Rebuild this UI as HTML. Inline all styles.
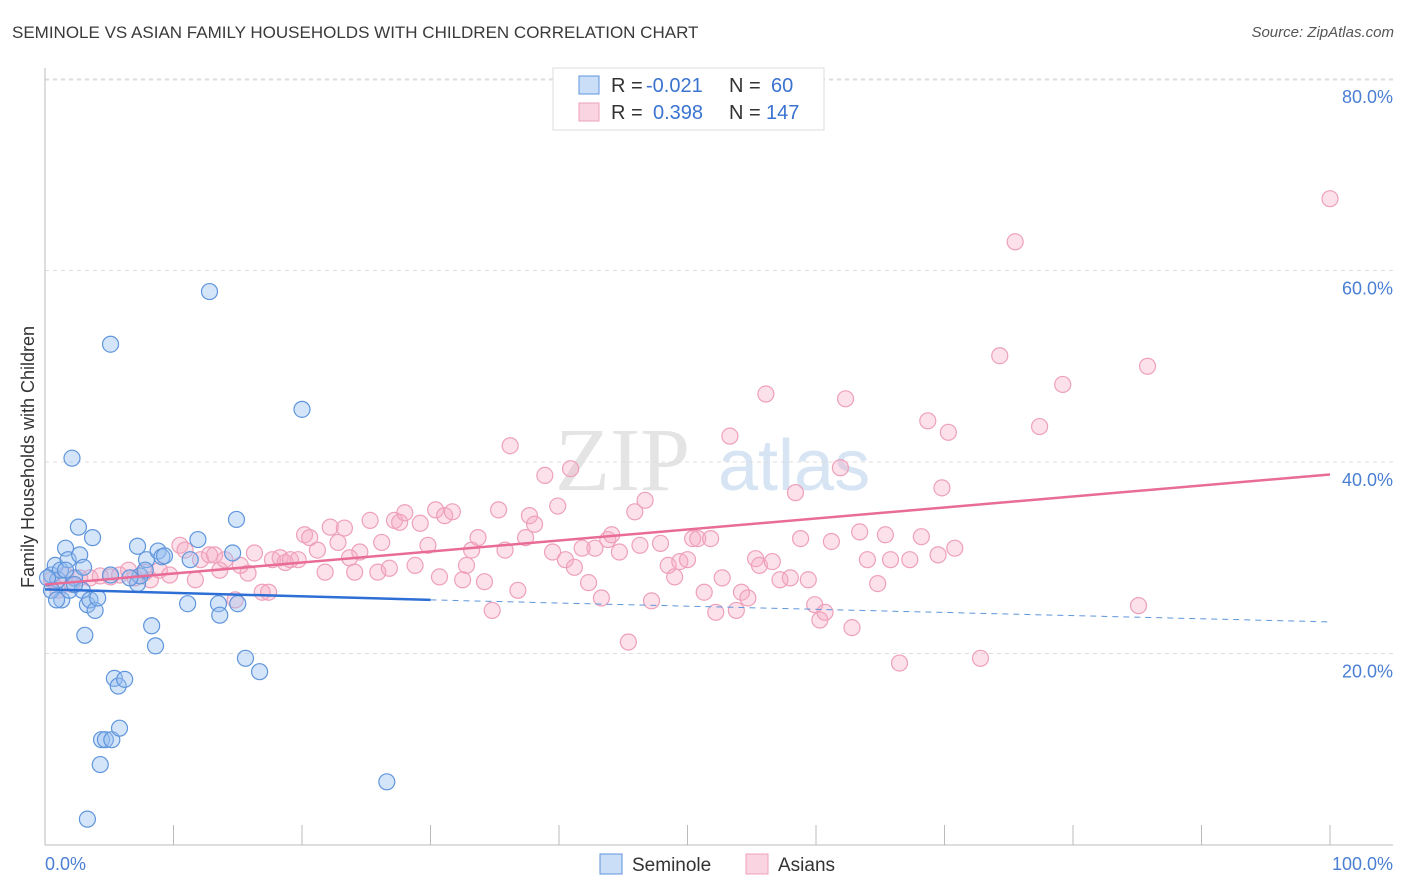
<!DOCTYPE html>
<html><head><meta charset="utf-8">
<style>
body{margin:0;background:#fff;font-family:"Liberation Sans",sans-serif;}
#wrap{position:relative;width:1406px;height:892px;overflow:hidden;}
.t{position:absolute;white-space:nowrap;}
</style></head>
<body>
<div id="wrap">
<div class="t" style="left:12px;top:23px;font-size:17px;color:#3a3a3a;">SEMINOLE VS ASIAN FAMILY HOUSEHOLDS WITH CHILDREN CORRELATION CHART</div>
<div class="t" style="right:12px;top:24px;font-size:15px;color:#555;font-style:italic;">Source: ZipAtlas.com</div>
<svg id="svg" width="1406" height="892" style="position:absolute;left:0;top:0"></svg>
</div>
<script>
const xTicks=[0,10,20,30,40,50,60,70,80,90,100];
const yTicks=[20,40,60,80];
const semX=[0.5,0.8,1.0,1.2,1.3,1.6,1.8,1.9,2.1,2.3,2.6,2.7,2.9,3.0,3.1,3.3,3.5,3.7,3.9,4.1,4.4,4.7,5.1,5.2,5.4,5.7,5.8,6.2,3.3,4.3,7.2,7.2,7.4,7.9,8.3,8.6,8.8,9.1,9.3,11.1,11.3,11.9,12.8,13.5,13.6,14.6,14.9,15.0,15.6,16.7,20.0,26.6,0.5,0.9,1.6,2.3,0.2,5.1,6.6,7.8];
const semY=[28.2,29.2,27.7,28.7,25.6,31.0,29.8,26.6,40.4,27.9,33.2,30.3,26.6,29.0,21.9,25.1,25.6,32.1,24.5,25.8,11.0,11.0,52.3,11.0,17.4,16.6,12.2,17.3,2.7,8.4,31.2,27.3,28.1,29.8,22.9,20.8,30.7,30.1,30.2,25.2,29.8,31.9,57.8,25.2,24.0,30.5,34.0,25.2,19.5,18.1,45.5,6.6,26.6,25.6,28.7,27.2,27.9,28.2,27.9,28.7];
const asX=[0.5,1.0,1.6,2.1,2.7,3.5,4.3,5.1,5.8,6.5,7.0,7.8,8.2,8.9,9.7,10.5,10.9,11.7,12.1,12.8,13.2,13.6,14.0,14.8,15.2,15.8,16.3,16.9,17.4,17.7,18.3,18.7,19.1,19.7,20.2,20.6,21.2,21.8,22.2,22.8,23.3,23.7,24.1,24.5,25.3,25.9,26.2,26.8,27.2,27.6,28.0,28.8,29.2,29.8,30.4,30.7,31.1,31.7,32.5,32.8,33.2,33.7,34.2,34.8,35.3,35.8,36.2,36.8,37.4,37.7,38.1,38.9,39.5,39.9,40.5,40.9,41.2,41.8,42.3,42.8,43.3,43.8,44.1,44.7,45.4,45.9,46.3,46.7,47.2,47.9,48.5,49.0,49.4,50.0,50.4,50.8,51.3,51.8,52.2,52.7,53.3,53.8,54.2,54.7,55.3,55.6,56.1,56.6,57.2,58.0,58.8,59.4,59.9,60.3,60.7,61.2,61.9,62.3,62.8,63.4,64.0,64.8,65.4,65.8,66.5,67.3,68.2,68.7,69.5,69.8,70.3,70.8,72.8,74.3,75.5,77.4,79.2,85.1,85.8,100,58.4];
const asY=[27.7,26.6,28.2,27.2,27.9,27.9,28.1,28.0,28.2,28.7,27.9,28.5,27.7,28.7,28.2,31.3,30.8,27.7,29.8,30.3,30.3,28.7,29.8,25.6,29.2,28.4,30.5,26.4,26.4,29.8,30.0,29.5,29.8,29.8,32.4,32.1,30.8,28.5,33.2,31.6,33.1,30.0,28.5,30.6,33.9,28.5,31.6,28.9,33.9,33.7,34.7,29.2,33.6,31.3,35.0,28.0,34.4,34.8,27.7,29.2,30.8,32.1,27.5,24.5,35.0,30.8,41.7,26.6,32.1,34.4,33.5,38.6,30.6,35.4,29.8,39.3,29.0,31.0,27.4,31.0,25.8,31.9,32.4,30.6,21.2,34.8,31.3,36.0,25.5,31.5,29.2,28.0,29.6,29.8,32.0,32.0,26.4,32.0,24.3,27.9,42.7,24.5,26.4,25.8,29.9,29.2,47.1,29.6,27.7,27.9,32.0,27.7,25.1,23.5,24.3,31.7,39.4,46.6,22.7,32.7,29.8,27.3,32.4,29.8,19.0,29.8,32.2,44.3,30.3,37.3,43.1,31.0,19.5,51.1,63.0,43.7,48.1,25.0,50.0,67.5,36.8];
const semTrend=[26.7,25.6,23.3]; // at x=0,30,100
const asTrend=[27.2,38.7]; // at x=0,100

const NS="http://www.w3.org/2000/svg";
const svg=document.getElementById('svg');
const X=v=>45+v*12.85;
const Y=v=>845-v*9.575;
function mk(tag,attrs,parent){const e=document.createElementNS(NS,tag);for(const k in attrs)e.setAttribute(k,attrs[k]);(parent||svg).appendChild(e);return e;}

let wm=mk('text',{x:555,y:490,'font-size':90,fill:'#e4e4e4','font-family':'Liberation Serif'});wm.textContent='ZIP';


let wm2=mk('text',{x:718,y:490,'font-size':72,fill:'#d6e4f4','font-family':'Liberation Sans'});wm2.textContent='atlas';



yTicks.forEach(t=>{
  const l=mk('line',{x1:45,x2:1393,y1:Y(t),y2:Y(t),stroke:'#ddd','stroke-dasharray':'4,4'});
  
  
  const tx=mk('text',{x:1393,y:Y(t)+24,'text-anchor':'end','font-size':18,fill:'#4a7fd4'});
  tx.textContent=t.toFixed(1)+'%';
  
  
});
const tg=mk('line',{x1:45,x2:1393,y1:80,y2:80,stroke:'#ddd','stroke-dasharray':'4,4'});


const ax=mk('line',{x1:45,x2:1393,y1:845,y2:845,stroke:'#bbb'});


const ay=mk('line',{x1:45,x2:45,y1:68,y2:845,stroke:'#bbb'});


xTicks.forEach(t=>{
  const l=mk('line',{x1:X(t),x2:X(t),y1:825,y2:845,stroke:'#bbb'});
  
  
});
[[0,'start','0.0%'],[100,'end','100.0%']].forEach(([v,a,s])=>{
  const tx=mk('text',{x:v==0?45:1393,y:870,'text-anchor':a,'font-size':18,fill:'#4a7fd4'});tx.textContent=s;
  
  
});
const yt=mk('text',{x:0,y:0,'font-size':18,fill:'#333','text-anchor':'middle',transform:'translate(34,457) rotate(-90)'});
yt.textContent='Family Households with Children';



asX.forEach((v,i)=>{
  const c=mk('circle',{cx:X(v),cy:Y(asY[i]),r:8,fill:'rgba(246,170,196,0.35)',stroke:'#eea0bb','stroke-width':1.2});
  
  
});
semX.forEach((v,i)=>{
  const c=mk('circle',{cx:X(v),cy:Y(semY[i]),r:8,fill:'rgba(150,190,240,0.4)',stroke:'#5f95dc','stroke-width':1.2});
  
  
});
const st=mk('line',{x1:X(0),y1:Y(semTrend[0]),x2:X(30),y2:Y(semTrend[1]),stroke:'#2d6fd4','stroke-width':2.5});


const sd=mk('line',{x1:X(30),y1:Y(semTrend[1]),x2:X(100),y2:Y(semTrend[2]),stroke:'#5f95dc','stroke-width':1,'stroke-dasharray':'6,5'});


const at=mk('line',{x1:X(0),y1:Y(asTrend[0]),x2:X(100),y2:Y(asTrend[1]),stroke:'#e86c97','stroke-width':2.5});



const lg=mk('rect',{x:553,y:68,width:271,height:62,fill:'#fff',stroke:'#ddd'});


[[76,'rgba(150,190,240,0.5)','#5f95dc','-0.021','60',646,771],[103,'rgba(246,170,196,0.5)','#eea0bb','0.398','147',653,766]].forEach(([y,f,s,r,n,rx,nx])=>{
  const b=mk('rect',{x:579,y:y,width:20,height:18,fill:f,stroke:s});
  
  
  const t1=mk('text',{x:611,y:y+16,'font-size':20,fill:'#333'});t1.textContent='R =';
  
  
  const t2=mk('text',{x:rx,y:y+16,'font-size':20,fill:'#3a74d0'});t2.textContent=r;
  
  
  const t3=mk('text',{x:729,y:y+16,'font-size':20,fill:'#333'});t3.textContent='N =';
  
  
  const t4=mk('text',{x:nx,y:y+16,'font-size':20,fill:'#3a74d0'});t4.textContent=n;
  
  
});
[[600,'rgba(150,190,240,0.5)','#5f95dc','Seminole'],[746,'rgba(246,170,196,0.5)','#eea0bb','Asians']].forEach(([x,f,s,l])=>{
  const b=mk('rect',{x:x,y:854,width:22,height:20,fill:f,stroke:s});
  
  
  const t=mk('text',{x:x+32,y:871,'font-size':19,fill:'#333'});t.textContent=l;
  
  
});
</script>
</body></html>
